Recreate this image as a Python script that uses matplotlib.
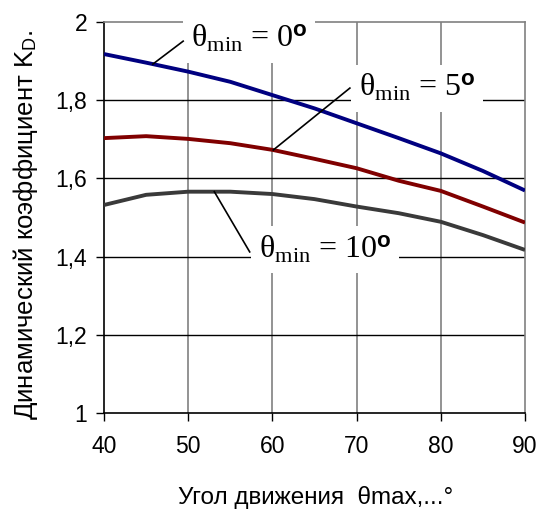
import numpy as np
import matplotlib
matplotlib.use("Agg")
import matplotlib.pyplot as plt

plt.rcParams['font.family'] = ['Liberation Sans', 'DejaVu Sans']
plt.rcParams['mathtext.fontset'] = 'custom'
plt.rcParams['mathtext.rm'] = 'Liberation Serif'
plt.rcParams['mathtext.it'] = 'Liberation Serif:italic'
plt.rcParams['mathtext.bf'] = 'Liberation Sans:bold'
plt.rcParams['mathtext.sf'] = 'Liberation Sans'

# Angle of motion theta_max, degrees
theta_max = [40, 45, 50, 55, 60, 65, 70, 75, 80, 85, 90]
# Dynamic coefficient K_D for several theta_min values
kd_min0 = [1.918, 1.896, 1.873, 1.847, 1.813, 1.779, 1.741, 1.703, 1.664, 1.619, 1.569]
kd_min5 = [1.703, 1.708, 1.701, 1.690, 1.673, 1.650, 1.626, 1.594, 1.568, 1.528, 1.487]
kd_min10 = [1.532, 1.558, 1.566, 1.566, 1.560, 1.547, 1.528, 1.511, 1.489, 1.455, 1.417]

x_ticks = [40, 50, 60, 70, 80, 90]
y_ticks = [1.0, 1.2, 1.4, 1.6, 1.8, 2.0]
y_tick_labels = ['1', '1,2', '1,4', '1,6', '1,8', '2']

fig = plt.figure(figsize=(5.37, 5.09), dpi=100)
ax = fig.add_axes([0.1937, 0.1886, 0.7840, 0.7682])

ax.set_xlim(40, 90)
ax.set_ylim(1.0, 2.0)
ax.set_xticks(x_ticks)
ax.set_yticks(y_ticks)
ax.set_yticklabels(y_tick_labels)
ax.tick_params(direction='out', length=6, width=1, labelsize=16.5)
ax.tick_params(axis='x', pad=10)
ax.tick_params(axis='y', pad=6)

# grid: grey verticals, black horizontals
for xv in x_ticks[1:-1]:
    ax.axvline(xv, color='#808080', lw=1.2, zorder=1)
for yv in y_ticks[1:-1]:
    ax.axhline(yv, color='black', lw=1.0, zorder=1)

for side in ['left', 'bottom']:
    ax.spines[side].set_color('black')
    ax.spines[side].set_linewidth(1.2)
for side in ['top', 'right']:
    ax.spines[side].set_color('#808080')
    ax.spines[side].set_linewidth(1.2)

ax.plot(theta_max, kd_min0, color='#000080', lw=2.8, zorder=3, solid_capstyle='butt')
ax.plot(theta_max, kd_min5, color='#800000', lw=2.8, zorder=3, solid_capstyle='butt')
ax.plot(theta_max, kd_min10, color='#3a3a3a', lw=2.8, zorder=3, solid_capstyle='butt')

box = dict(boxstyle='square,pad=0.25', fc='white', ec='none')
labels = [
    ('θ$_{\\mathrm{min}}$ = 0$^{\\mathbf{o}}$', kd_min0, 45.8, (50.3, 1.934), (49.4, 1.951)),
    ('θ$_{\\mathrm{min}}$ = 5$^{\\mathbf{o}}$', kd_min5, 60.1, (70.3, 1.809), (69.2, 1.831)),
    ('θ$_{\\mathrm{min}}$ = 10$^{\\mathbf{o}}$', kd_min10, 53.1, (58.4, 1.396), (57.3, 1.412)),
]
for text, series, xc, pos, end in labels:
    ax.text(pos[0], pos[1], text, fontsize=23, family='Liberation Serif',
            ha='left', va='baseline', bbox=box, zorder=4)
    ax.plot([xc, end[0]], [np.interp(xc, theta_max, series), end[1]],
            color='black', lw=1.2, zorder=5)

fig.text(0.587, 0.022, 'Угол движения  θmax,...°', fontsize=17.5,
         ha='center', va='center')
fig.text(0.048, 0.558, 'Динамический коэффициент K$_{\\mathsf{D}}$.', fontsize=18.5,
         ha='center', va='center', rotation=90)

fig.savefig('out.png', dpi=100)
